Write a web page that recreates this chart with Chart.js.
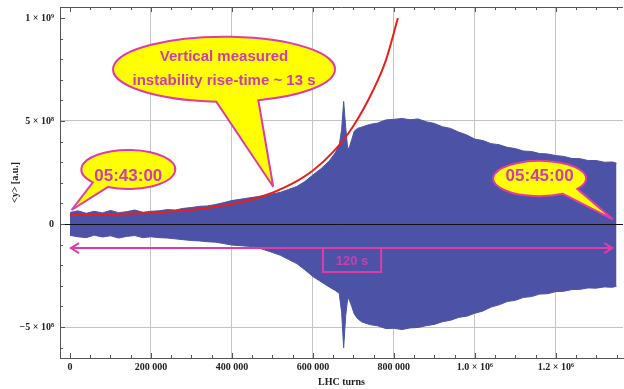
<!DOCTYPE html>
<html>
<head>
<meta charset="utf-8">
<script src="https://cdn.jsdelivr.net/npm/chart.js@4.4.0/dist/chart.umd.min.js"></script>
<style>
  body { margin: 0; background: #fff; }
  #wrap { width: 624px; height: 389px; }
</style>
</head>
<body>
<div id="wrap"><canvas id="myChart"></canvas></div>
<script>
// beam signal envelope, turns in thousands, amplitude in units of 1e8
var envTurns = [0, 20, 40, 60, 80, 100, 120, 140, 160, 180, 200, 220, 240, 260, 280, 300, 320, 340, 360, 380,
  400, 420, 440, 460, 480, 500, 520, 540, 560, 580, 600, 620, 640, 655, 665, 671, 676, 681, 686, 690,
  696, 702, 710, 720, 740, 760, 780, 800, 820, 840, 860, 880, 900, 920, 940, 960, 980, 1000, 1020, 1040,
  1060, 1080, 1100, 1120, 1140, 1160, 1180, 1200, 1220, 1240, 1260, 1280, 1300, 1320, 1340, 1350];
var upperEnv = [0.56, 0.64, 0.52, 0.62, 0.54, 0.66, 0.55, 0.60, 0.68, 0.57, 0.62, 0.64, 0.70, 0.68, 0.76, 0.80, 0.86, 0.88, 0.95, 1.04,
  1.14, 1.20, 1.26, 1.32, 1.38, 1.46, 1.54, 1.68, 1.82, 2.06, 2.38, 2.68, 3.05, 3.45, 3.82, 4.6, 5.95, 4.7, 3.65, 3.72,
  4.1, 4.5, 4.64, 4.70, 4.83, 4.90, 5.05, 5.08, 5.12, 5.06, 5.10, 4.96, 4.88, 4.72, 4.64, 4.46, 4.32, 4.12, 4.05, 3.90,
  3.85, 3.72, 3.66, 3.54, 3.52, 3.42, 3.40, 3.32, 3.28, 3.18, 3.17, 3.08, 3.08, 3.00, 3.01, 2.95];
var lowerEnv = [-0.55, -0.62, -0.66, -0.54, -0.63, -0.57, -0.68, -0.60, -0.56, -0.66, -0.62, -0.66, -0.68, -0.72, -0.76, -0.80, -0.82, -0.86, -0.88, -0.95,
  -1.02, -1.05, -1.08, -1.12, -1.25, -1.38, -1.52, -1.72, -1.92, -2.22, -2.55, -2.80, -3.05, -3.22, -3.36, -4.3, -6.0, -4.45, -3.6, -3.68,
  -4.0, -4.36, -4.58, -4.74, -4.88, -4.94, -5.07, -5.06, -5.12, -5.04, -5.02, -4.93, -4.87, -4.74, -4.67, -4.53, -4.47, -4.33, -4.22, -4.03,
  -3.92, -3.76, -3.70, -3.56, -3.52, -3.40, -3.38, -3.28, -3.26, -3.18, -3.17, -3.10, -3.11, -3.05, -3.07, -3.02];

// exponential rise-time curve (red)
var fitTurns = [0, 100, 200, 300, 400, 450, 500, 550, 600, 650, 700, 750, 780, 810];
var fitValues = [0.45, 0.48, 0.55, 0.69, 0.97, 1.20, 1.52, 1.97, 2.60, 3.50, 4.76, 6.54, 7.93, 10.0];

var xTickValues = [0, 200000, 400000, 600000, 800000, 1000000, 1200000];
var xTickLabels = ["0", "200 000", "400 000", "600 000", "800 000", "1.0 × 10⁶", "1.2 × 10⁶"];
var yTickValues = [1e9, 5e8, 0, -5e8];
var yTickLabels = ["1 × 10⁹", "5 × 10⁸", "0", "−5 × 10⁸"];

var blue = "rgb(76,82,165)";
var magenta = "#e03ca6";
var textMagenta = "#d03cae";

function toPoints(xs, ys, k) {
  return xs.map(function (x, i) { return { x: x * 1000, y: ys[i] * k }; });
}

function findLabel(vals, labels, v) {
  for (var i = 0; i < vals.length; i++) {
    if (Math.abs(vals[i] - v) < 1) return labels[i];
  }
  return "";
}

// tick marks every minor step, labels only where a label exists
function stepTicks(lo, hi, step) {
  var out = [];
  for (var v = Math.ceil(lo / step) * step; v <= hi; v += step) out.push({ value: v });
  return out;
}

// callouts, placed in data coordinates
var bubbles = [
  { t: 144000, v: 2.645e8, rx: 47, ry: 19.5, a1: 116, a2: 139, tipT: 4000, tipV: 0.68e8,
    lines: ["05:43:00"], size: 17, dy: [11.5] },
  { t: 380500, v: 7.51e8, rx: 111, ry: 32.5, a1: 72, a2: 94, tipT: 502000, tipV: 1.81e8,
    lines: ["Vertical measured", "instability rise-time ~ 13 s"], size: 15, dy: [-8, 15.5] },
  { t: 1160000, v: 2.21e8, rx: 46.5, ry: 17.7, a1: 36, a2: 60, tipT: 1341000, tipV: 0.23e8,
    lines: ["05:45:00"], size: 17, dy: [2.5] }
];
var arrowSpan = { from: 0, to: 1342000, v: -1.165e8 };
var spanBox = { from: 625000, to: 768500, top: -1.165e8, bottom: -2.33e8, text: "120 s" };

function drawBubble(ctx, xs, ys, b) {
  var cx = xs.getPixelForValue(b.t), cy = ys.getPixelForValue(b.v);
  var tx = xs.getPixelForValue(b.tipT), ty = ys.getPixelForValue(b.tipV);
  var a1 = b.a1 * Math.PI / 180, a2 = b.a2 * Math.PI / 180;
  ctx.beginPath();
  ctx.ellipse(cx, cy, b.rx, b.ry, 0, a2, a1 + 2 * Math.PI);
  ctx.lineTo(tx, ty);
  ctx.closePath();
  ctx.fillStyle = "#ffff00";
  ctx.fill();
  ctx.lineWidth = 2;
  ctx.miterLimit = 4;
  ctx.strokeStyle = magenta;
  ctx.stroke();
  ctx.fillStyle = textMagenta;
  ctx.font = "bold " + b.size + "px 'Liberation Sans', Arial, sans-serif";
  ctx.textAlign = "center";
  ctx.textBaseline = "alphabetic";
  b.lines.forEach(function (s, i) { ctx.fillText(s, cx, cy + b.dy[i]); });
}

var overlay = {
  id: "overlay",
  afterDatasetsDraw: function (chart) {
    var ctx = chart.ctx, a = chart.chartArea, xs = chart.scales.x, ys = chart.scales.y;
    ctx.save();

    // zero line over the signal
    var y0 = Math.round(ys.getPixelForValue(0)) + 0.5;
    ctx.strokeStyle = "#111";
    ctx.lineWidth = 1;
    ctx.beginPath();
    ctx.moveTo(a.left, y0); ctx.lineTo(a.right, y0);
    ctx.stroke();

    // frame top + inward ticks
    ctx.strokeStyle = "#555";
    ctx.beginPath();
    ctx.moveTo(a.left, Math.round(a.top) + 0.5); ctx.lineTo(a.right, Math.round(a.top) + 0.5);
    xs.ticks.forEach(function (tk) {
      var v = tk.value;
      var len = v % 200000 === 0 ? 5 : 3;
      var px = Math.round(xs.getPixelForValue(v)) + 0.5;
      ctx.moveTo(px, a.bottom); ctx.lineTo(px, a.bottom - len);
      ctx.moveTo(px, a.top); ctx.lineTo(px, a.top + len);
    });
    ys.ticks.forEach(function (tk) {
      var v = tk.value;
      var len = v % 5e8 === 0 ? 5 : 3;
      var py = Math.round(ys.getPixelForValue(v)) + 0.5;
      ctx.moveTo(a.left, py); ctx.lineTo(a.left + len, py);
    });
    ctx.stroke();

    // 120 s double arrow
    var ay = ys.getPixelForValue(arrowSpan.v);
    var ax1 = xs.getPixelForValue(arrowSpan.from), ax2 = xs.getPixelForValue(arrowSpan.to);
    ctx.strokeStyle = magenta;
    ctx.lineWidth = 2;
    ctx.beginPath();
    ctx.moveTo(ax1, ay); ctx.lineTo(ax2, ay);
    ctx.moveTo(ax1 + 9, ay - 5); ctx.lineTo(ax1 + 1, ay); ctx.lineTo(ax1 + 9, ay + 5);
    ctx.moveTo(ax2 - 9, ay - 5); ctx.lineTo(ax2 - 1, ay); ctx.lineTo(ax2 - 9, ay + 5);
    ctx.stroke();

    var bx1 = xs.getPixelForValue(spanBox.from), bx2 = xs.getPixelForValue(spanBox.to);
    var by1 = ys.getPixelForValue(spanBox.top), by2 = ys.getPixelForValue(spanBox.bottom);
    ctx.strokeRect(bx1, by1, bx2 - bx1, by2 - by1);
    ctx.fillStyle = textMagenta;
    ctx.font = "bold 13px 'Liberation Sans', Arial, sans-serif";
    ctx.textAlign = "center";
    ctx.textBaseline = "alphabetic";
    ctx.fillText(spanBox.text, (bx1 + bx2) / 2, by2 - 7);

    bubbles.forEach(function (b) { drawBubble(ctx, xs, ys, b); });
    ctx.restore();
  }
};

var serif = "'Liberation Serif', 'Times New Roman', serif";

new Chart("myChart", {
  type: "line",
  data: {
    datasets: [
      {
        data: toPoints(fitTurns, fitValues, 1e8),
        borderColor: "#e8201c",
        borderWidth: 2,
        pointRadius: 0,
        fill: false,
        cubicInterpolationMode: "monotone"
      },
      {
        data: toPoints(envTurns, upperEnv, 1e8),
        borderColor: blue,
        borderWidth: 1,
        backgroundColor: blue,
        pointRadius: 0,
        tension: 0,
        fill: "origin"
      },
      {
        data: toPoints(envTurns, lowerEnv, 1e8),
        borderColor: blue,
        borderWidth: 1,
        backgroundColor: blue,
        pointRadius: 0,
        tension: 0,
        fill: "origin"
      }
    ]
  },
  options: {
    responsive: true,
    maintainAspectRatio: false,
    animation: false,
    devicePixelRatio: 1,
    layout: { padding: { top: 7, right: 1, left: 0, bottom: 0 } },
    plugins: { legend: { display: false }, tooltip: { enabled: false } },
    scales: {
      x: {
        type: "linear",
        min: -24700,
        max: 1366000,
        afterBuildTicks: function (s) { s.ticks = stepTicks(s.min, s.max, 50000); },
        afterFit: function (s) { s.height = 31; s.paddingLeft = 0; s.paddingRight = 0; },
        border: { display: true, color: "#555" },
        grid: {
          drawTicks: false,
          color: function (c) {
            var v = c.tick ? c.tick.value : 1;
            return (v !== 0 && v % 200000 === 0) ? "#c4c4c4" : "rgba(0,0,0,0)";
          }
        },
        ticks: {
          autoSkip: false,
          maxRotation: 0,
          padding: 3,
          color: "#222",
          font: { family: serif, size: 10, weight: "bold" },
          callback: function (v) { return findLabel(xTickValues, xTickLabels, v); }
        },
        title: {
          display: true,
          text: "LHC turns",
          color: "#222",
          font: { family: serif, size: 10, weight: "bold" },
          padding: { top: 0, bottom: 1 }
        }
      },
      y: {
        type: "linear",
        min: -6.5e8,
        max: 1.053e9,
        afterBuildTicks: function (s) { s.ticks = stepTicks(s.min, s.max, 1e8); },
        afterFit: function (s) { s.width = 60; s.paddingTop = 0; s.paddingBottom = 0; },
        border: { display: true, color: "#555" },
        grid: {
          drawTicks: false,
          color: function (c) {
            var v = c.tick ? c.tick.value : 1;
            return Math.abs(Math.abs(v) - 5e8) < 1 ? "#c4c4c4" : "rgba(0,0,0,0)";
          }
        },
        ticks: {
          autoSkip: false,
          padding: 6,
          color: "#222",
          font: { family: serif, size: 10, weight: "bold" },
          callback: function (v) { return findLabel(yTickValues, yTickLabels, v); }
        },
        title: {
          display: true,
          text: "<y> [a.u.]",
          color: "#222",
          font: { family: serif, size: 10, weight: "bold" },
          padding: { top: 9, bottom: 0 }
        }
      }
    }
  },
  plugins: [overlay]
});
</script>
</body>
</html>
